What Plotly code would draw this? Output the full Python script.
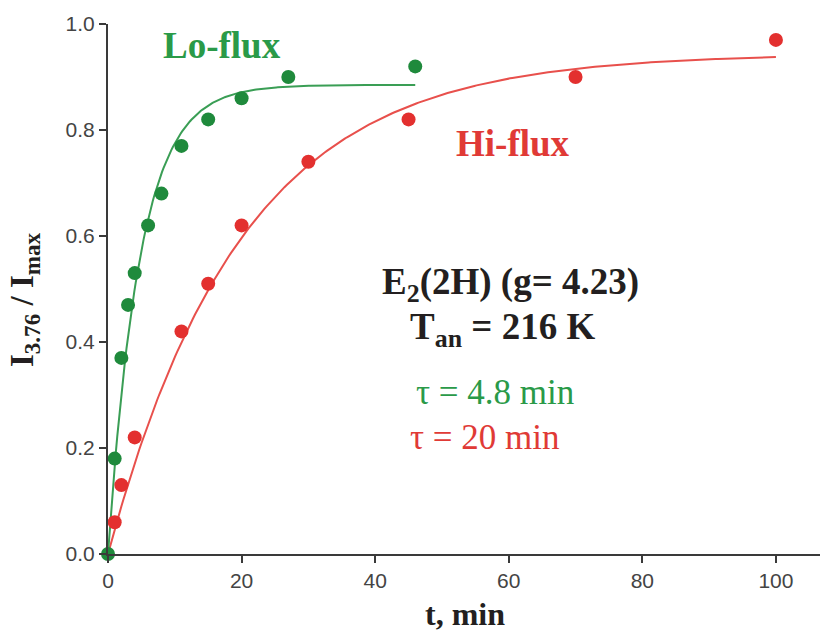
import numpy as np
import plotly.graph_objects as go

# Data
lo_t = [0, 1, 2, 3, 4, 6, 8, 11, 15, 20, 27, 46]
lo_y = [0.0, 0.18, 0.37, 0.47, 0.53, 0.62, 0.68, 0.77, 0.82, 0.86, 0.90, 0.92]
hi_t = [1, 2, 4, 11, 15, 20, 30, 45, 70, 100]
hi_y = [0.06, 0.13, 0.22, 0.42, 0.51, 0.62, 0.74, 0.82, 0.90, 0.97]

# Exponential fit parameters (tau as stated on the chart)
lo_tau, lo_amp, lo_tmax = 4.8, 0.885, 46
hi_tau, hi_amp, hi_tmax = 20.0, 0.944, 100

x_ticks = [0, 20, 40, 60, 80, 100]
y_ticks = [0.0, 0.2, 0.4, 0.6, 0.8, 1.0]

GREEN_PT = "#1f8a3c"
GREEN_LN = "#3a9e55"
GREEN_TX = "#2a9a48"
RED_PT = "#e3302f"
RED_LN = "#e8504c"
RED_TX = "#e03a36"

lo_ft = np.linspace(0, lo_tmax, 200)
hi_ft = np.linspace(0, hi_tmax, 300)
lo_fit = lo_amp * (1 - np.exp(-lo_ft / lo_tau))
hi_fit = hi_amp * (1 - np.exp(-hi_ft / hi_tau))

fig = go.Figure()
fig.add_trace(go.Scatter(x=hi_ft, y=hi_fit, mode="lines",
                         line=dict(color=RED_LN, width=2), cliponaxis=False))
fig.add_trace(go.Scatter(x=lo_ft, y=lo_fit, mode="lines",
                         line=dict(color=GREEN_LN, width=2), cliponaxis=False))
fig.add_trace(go.Scatter(x=hi_t, y=hi_y, mode="markers",
                         marker=dict(color=RED_PT, size=14), cliponaxis=False))
fig.add_trace(go.Scatter(x=lo_t, y=lo_y, mode="markers",
                         marker=dict(color=GREEN_PT, size=14), cliponaxis=False))

serif = "Liberation Serif"
anns = [
    dict(text="<b>Lo-flux</b>", x=17.1, y=0.959, color=GREEN_TX, size=37),
    dict(text="<b>Hi-flux</b>", x=60.6, y=0.774, color=RED_TX, size=37),
    dict(text="<b>E<sub>2</sub>(2H) (g= 4.23)</b>", x=60.3, y=0.508, color="#231f20", size=37),
    dict(text="<b>T<sub>an</sub> = 216 K</b>", x=59.1, y=0.423, color="#231f20", size=37),
    dict(text="τ = 4.8 min", x=57.9, y=0.304, color=GREEN_TX, size=35),
    dict(text="τ = 20 min", x=56.4, y=0.219, color=RED_TX, size=35),
]
for a in anns:
    fig.add_annotation(text=a["text"], x=a["x"], y=a["y"], xref="x", yref="y",
                       showarrow=False, xanchor="center", yanchor="middle",
                       font=dict(family=serif, size=a["size"], color=a["color"]))

fig.add_annotation(text="<b>I<sub>3.76</sub> / I<sub>max</sub></b>", textangle=-90,
                   xref="paper", yref="paper", x=-0.118, y=0.481,
                   showarrow=False, xanchor="center", yanchor="middle",
                   font=dict(family=serif, size=33, color="#231f20"))
fig.add_annotation(text="<b>t, min</b>", xref="x", yref="paper", x=53.4, y=-0.114,
                   showarrow=False, xanchor="center", yanchor="middle",
                   font=dict(family=serif, size=32, color="#231f20"))

axis_common = dict(showgrid=False, zeroline=False, showline=True, linecolor="#3a3a3a",
                   linewidth=2, ticks="outside", ticklen=7, tickwidth=2, tickcolor="#3a3a3a",
                   tickfont=dict(family="Liberation Sans", size=21, color="#444444"))
fig.update_xaxes(range=[0, 106.6], tickvals=x_ticks, ticktext=[str(v) for v in x_ticks],
                 **axis_common)
fig.update_yaxes(range=[0, 1.0], tickvals=y_ticks, ticktext=[f"{v:.1f}" for v in y_ticks],
                 **axis_common)

fig.update_layout(width=822, height=634, margin=dict(l=108, r=2, t=24, b=80),
                  plot_bgcolor="white", paper_bgcolor="white", showlegend=False)

fig.write_html("out.html")
